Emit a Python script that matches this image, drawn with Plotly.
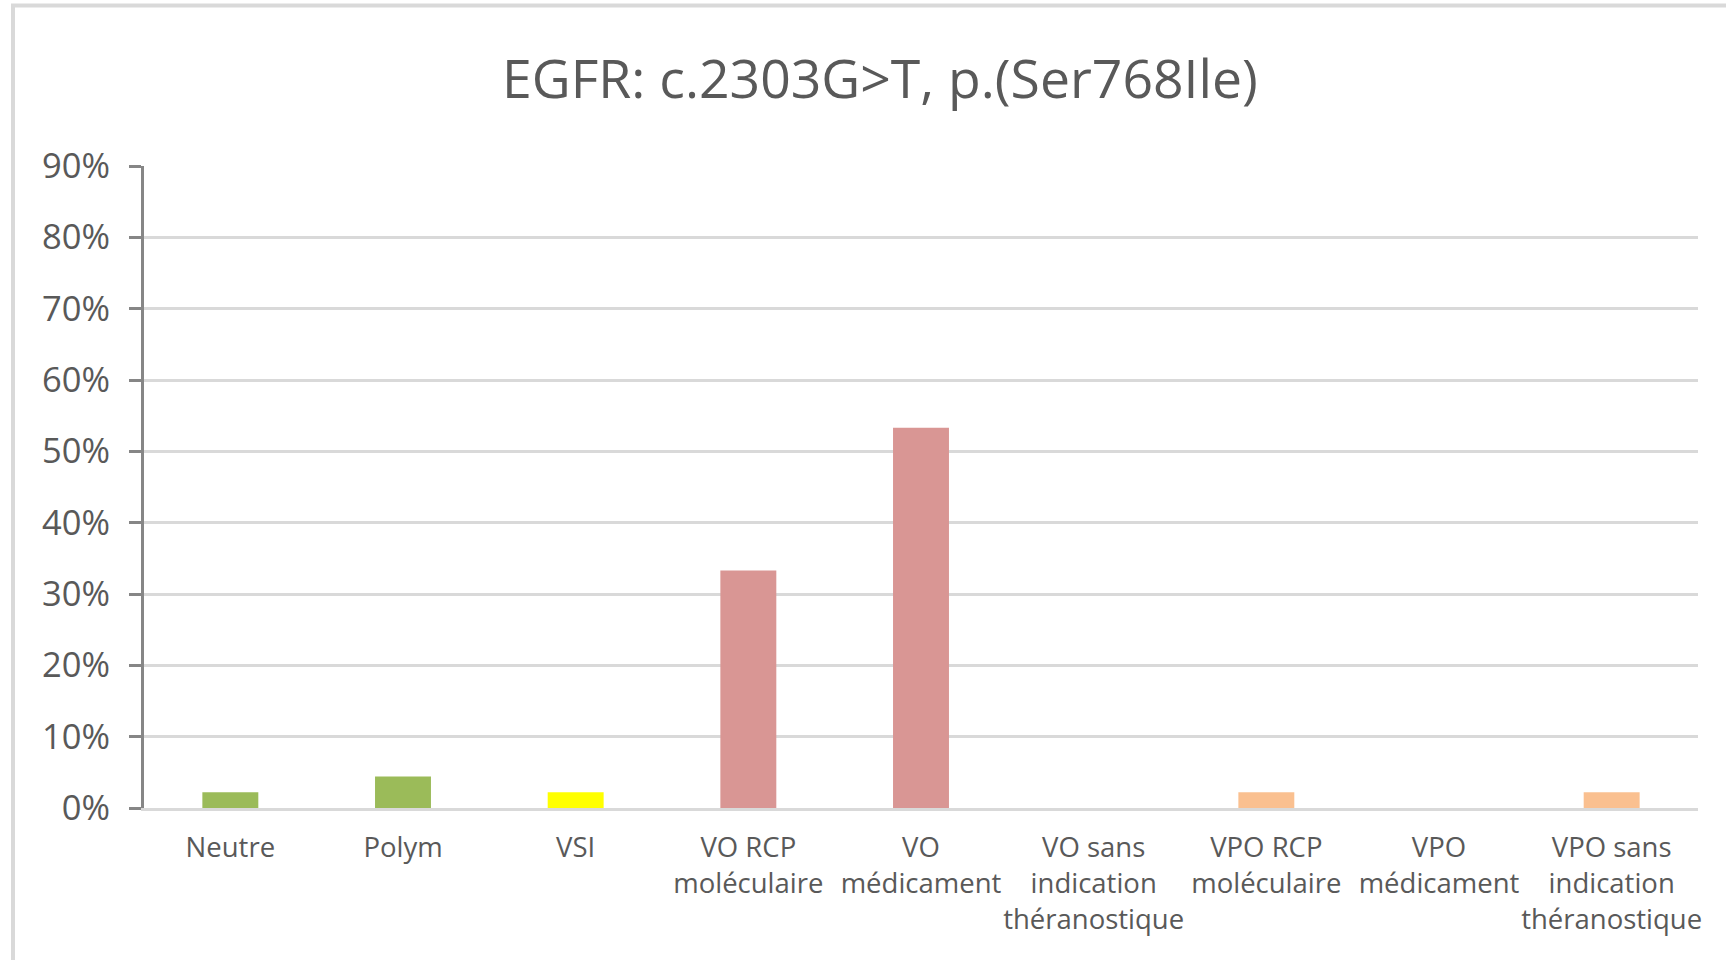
import plotly.graph_objects as go

# Distribution of classifications for the variant
categories = [
    "Neutre",
    "Polym",
    "VSI",
    "VO RCP<br>moléculaire",
    "VO<br>médicament",
    "VO sans<br>indication<br>théranostique",
    "VPO RCP<br>moléculaire",
    "VPO<br>médicament",
    "VPO sans<br>indication<br>théranostique",
]
shares = [0.022, 0.044, 0.022, 0.333, 0.533, 0.0, 0.022, 0.0, 0.022]
bar_colors = ["#9BBB59", "#9BBB59", "#FFFF00", "#D99694", "#D99694",
              "#D99694", "#FAC090", "#FAC090", "#FAC090"]
y_ticks = [0, 0.1, 0.2, 0.3, 0.4, 0.5, 0.6, 0.7, 0.8, 0.9]

W, H = 1726, 960
L, R, T, B = 144, 28, 166, 152
TEXT = "#595959"
GRID = "#D9D9D9"
AXIS = "#868686"


def px_to_paper_x(px):
    return (px - L) / (W - L - R)


def px_to_paper_y(py):
    return (H - B - py) / (H - T - B)


fig = go.Figure(
    go.Bar(
        x=categories,
        y=shares,
        marker=dict(color=bar_colors, line=dict(width=0)),
        hoverinfo="x+y",
    )
)

fig.update_layout(
    width=W,
    height=H,
    margin=dict(l=L, r=R, t=T, b=B, pad=0),
    paper_bgcolor="white",
    plot_bgcolor="white",
    bargap=0.676,
    showlegend=False,
    font=dict(family="Open Sans", color=TEXT),
    title=dict(
        text="EGFR: c.2303G>T, p.(Ser768Ile)",
        font=dict(family="Open Sans", size=53.5, color=TEXT),
        x=px_to_paper_x(880),
        xref="paper",
        xanchor="center",
        y=1 - 79 / H,
        yref="container",
        yanchor="middle",
    ),
    shapes=[
        dict(
            type="rect",
            xref="paper",
            yref="paper",
            x0=px_to_paper_x(13),
            x1=px_to_paper_x(W + 20),
            y0=px_to_paper_y(H + 20),
            y1=px_to_paper_y(5.5),
            line=dict(color=GRID, width=4),
            fillcolor="rgba(0,0,0,0)",
            layer="below",
        )
    ],
)

fig.update_xaxes(
    type="category",
    showline=True,
    linecolor=GRID,
    linewidth=3,
    showgrid=False,
    ticks="",
    tickfont=dict(family="Open Sans", size=27.5, color=TEXT),
    ticklabelstandoff=13,
    tickangle=0,
)

fig.update_yaxes(
    range=[0, 0.9],
    tickvals=y_ticks,
    tickformat=".0%",
    showgrid=True,
    gridcolor=GRID,
    gridwidth=3,
    zeroline=False,
    showline=True,
    linecolor=AXIS,
    linewidth=3,
    ticks="outside",
    ticklen=12,
    tickwidth=3,
    tickcolor=AXIS,
    tickfont=dict(family="Open Sans", size=34.5, color=TEXT),
    ticklabelstandoff=12,
)

fig.write_html("out.html")
